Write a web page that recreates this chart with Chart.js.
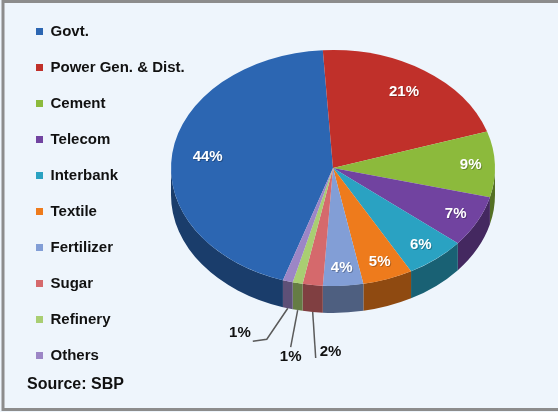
<!DOCTYPE html>
<html>
<head>
<meta charset="utf-8">
<script src="https://cdn.jsdelivr.net/npm/chart.js@4.4.1/dist/chart.umd.min.js"></script>
<style>
  html, body { margin: 0; padding: 0; background: #eef5fc; }
  #wrap { position: relative; width: 558px; height: 412px; }
</style>
</head>
<body>
<div id="wrap"><canvas id="sectorChart"></canvas></div>
<script>
// Sector shares (%)
const sectors = ['Govt.', 'Power Gen. & Dist.', 'Cement', 'Telecom', 'Interbank', 'Textile', 'Fertilizer', 'Sugar', 'Refinery', 'Others'];
const shares = [44, 21, 9, 7, 6, 5, 4, 2, 1, 1];
const sliceColors = ['#2c66b2', '#c0302a', '#8cba3c', '#7143a0', '#2aa2c2', '#ee7b1c', '#829ed6', '#d5696c', '#a9ce72', '#9c86c6'];
const sourceNote = 'Source: SBP';

function shade(hex, f) {
  const n = parseInt(hex.slice(1), 16);
  const r = Math.round(((n >> 16) & 255) * f);
  const g = Math.round(((n >> 8) & 255) * f);
  const b = Math.round((n & 255) * f);
  return `rgb(${r},${g},${b})`;
}

// Tilted pie: squashes the arcs into an ellipse and adds a side wall
const pie3d = {
  id: 'pie3d',
  beforeDraw(chart) {
    const { ctx, width, height } = chart;
    ctx.save();
    ctx.fillStyle = '#eef5fc';
    ctx.fillRect(0, 0, width, height);
    ctx.strokeStyle = '#8c8c8c';
    ctx.lineWidth = 3;
    ctx.beginPath();
    ctx.moveTo(width, 1.5);
    ctx.lineTo(3, 1.5);
    ctx.lineTo(3, height - 2.5);
    ctx.lineTo(width, height - 2.5);
    ctx.stroke();
    ctx.restore();
  },
  beforeDatasetsDraw(chart, args, opts) {
    const { ctx } = chart;
    const arcs = chart.getDatasetMeta(0).data;
    const rx = arcs[0].outerRadius;
    const ry = rx * opts.tilt;
    ctx.save();
    // side wall, only the front half of the ellipse is visible
    arcs.forEach((arc, i) => {
      const s = arc.startAngle, e = arc.endAngle;
      for (let k = -1; k <= 1; k++) {
        const lo = Math.max(s, 2 * Math.PI * k);
        const hi = Math.min(e, 2 * Math.PI * k + Math.PI);
        if (hi <= lo) continue;
        ctx.beginPath();
        ctx.ellipse(opts.cx, opts.cy, rx, ry, 0, lo, hi, false);
        ctx.ellipse(opts.cx, opts.cy + opts.depth, rx, ry, 0, hi, lo, true);
        ctx.closePath();
        ctx.fillStyle = shade(sliceColors[i], 0.6);
        ctx.fill();
      }
    });
    ctx.restore();
    // top face
    const a = arcs[0];
    ctx.save();
    ctx.translate(opts.cx, opts.cy);
    ctx.scale(1, opts.tilt);
    ctx.translate(-a.x, -a.y);
  },
  afterDatasetsDraw(chart, args, opts) {
    const { ctx } = chart;
    ctx.restore();
    const arcs = chart.getDatasetMeta(0).data;
    const rx = arcs[0].outerRadius;
    const ry = rx * opts.tilt;
    let small = 0;
    ctx.save();
    arcs.forEach((arc, i) => {
      const mid = (arc.startAngle + arc.endAngle) / 2;
      const text = shares[i] + '%';
      if (shares[i] >= 3) {
        const f = shares[i] >= 10 ? 0.78 : 0.85;
        const x = opts.cx + Math.cos(mid) * rx * f;
        const y = opts.cy + Math.sin(mid) * ry * f;
        ctx.font = 'bold 15px "Liberation Sans", Arial, sans-serif';
        ctx.textAlign = 'center';
        ctx.textBaseline = 'middle';
        ctx.fillStyle = 'rgba(0,0,0,0.25)';
        ctx.fillText(text, x + 1, y + 1);
        ctx.fillStyle = '#ffffff';
        ctx.fillText(text, x, y);
        return;
      }
      // leader line for thin slices
      const c = opts.callouts[small++];
      const ax = opts.cx + Math.cos(mid) * rx;
      const ay = opts.cy + Math.sin(mid) * ry + opts.depth;
      ctx.strokeStyle = '#5a5a5a';
      ctx.lineWidth = 1.5;
      ctx.beginPath();
      ctx.moveTo(ax, ay);
      ctx.lineTo(ax + c.elbow[0], ay + c.elbow[1]);
      ctx.lineTo(ax + c.end[0], ay + c.end[1]);
      ctx.stroke();
      ctx.font = 'bold 15px "Liberation Sans", Arial, sans-serif';
      ctx.textAlign = c.align;
      ctx.textBaseline = 'middle';
      ctx.fillStyle = '#111111';
      ctx.fillText(text, ax + c.end[0] + c.text[0], ay + c.end[1] + c.text[1]);
    });
    ctx.restore();
  },
  afterDraw(chart) {
    const { ctx } = chart;
    ctx.save();
    ctx.font = 'bold 16px "Liberation Sans", Arial, sans-serif';
    ctx.fillStyle = '#111111';
    ctx.textAlign = 'left';
    ctx.textBaseline = 'middle';
    ctx.fillText(sourceNote, 27, 385);
    ctx.restore();
  }
};

new Chart(document.getElementById('sectorChart'), {
  type: 'pie',
  data: {
    labels: sectors,
    datasets: [{
      data: shares,
      backgroundColor: sliceColors,
      borderWidth: 0,
      radius: 162,
      clip: false,
    }]
  },
  options: {
    responsive: true,
    maintainAspectRatio: false,
    animation: false,
    events: [],
    rotation: -162,
    layout: {
      padding: { left: 15, top: 3, right: 0, bottom: 0 }
    },
    plugins: {
      legend: {
        position: 'left',
        align: 'start',
        labels: {
          boxWidth: 7,
          boxHeight: 7,
          padding: 21,
          color: '#111111',
          font: { family: '"Liberation Sans", Arial, sans-serif', size: 15, weight: 'bold' }
        }
      },
      tooltip: { enabled: false },
      pie3d: {
        cx: 333,
        cy: 168,
        tilt: 0.728,
        depth: 27,
        callouts: [
          { elbow: [3, 46], end: [3, 46], align: 'left', text: [4, -6] },
          { elbow: [-7, 37], end: [-7, 37], align: 'center', text: [0, 10] },
          { elbow: [-21, 31], end: [-35, 33], align: 'right', text: [-2, -8] }
        ]
      }
    }
  },
  plugins: [pie3d]
});
</script>
</body>
</html>
